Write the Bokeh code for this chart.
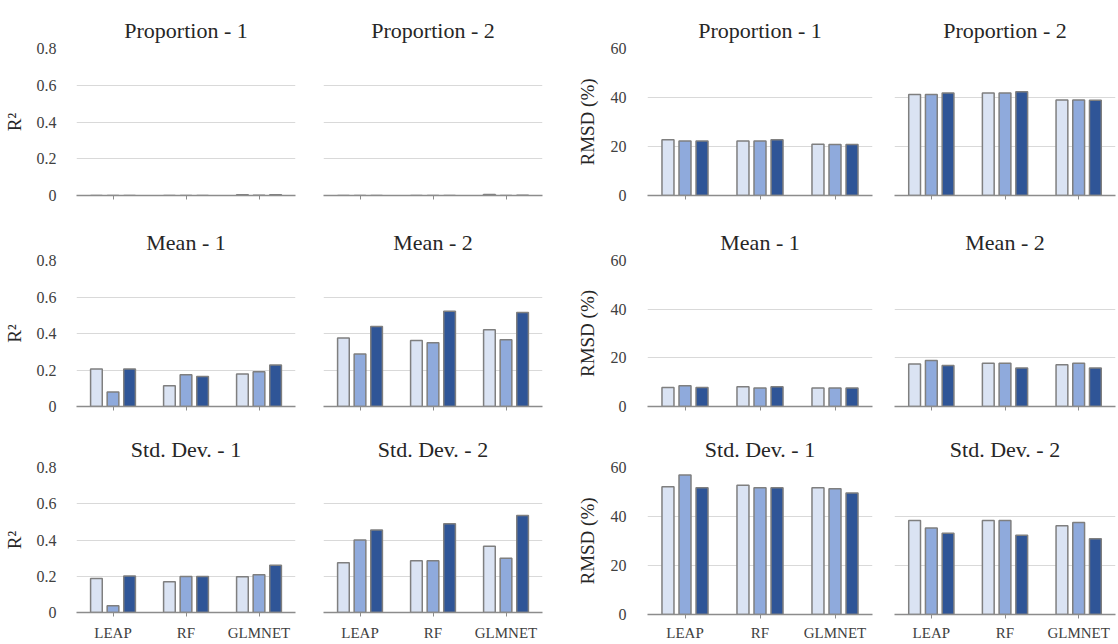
from bokeh.plotting import figure
from bokeh.layouts import column, row
from bokeh.models import Range1d, FactorRange, FixedTicker, ColumnDataSource
from bokeh.transform import dodge
from bokeh.embed import file_html
from bokeh.resources import INLINE

# ---------------- data ----------------
categories = ["LEAP", "RF", "GLMNET"]
series_names = ["Series 1", "Series 2", "Series 3"]
series_colors = ["#DAE3F3", "#8FAADC", "#2F5597"]

# each panel: one list per series, values for LEAP, RF, GLMNET
r2_proportion_1 = [[0.0, 0.0, 0.004], [0.0, 0.0, 0.001], [0.0, 0.0, 0.004]]
r2_proportion_2 = [[0.0, 0.0, 0.005], [0.0, 0.0, 0.0], [0.0, 0.0, 0.002]]
r2_mean_1 = [[0.205, 0.114, 0.178], [0.08, 0.174, 0.19], [0.205, 0.165, 0.227]]
r2_mean_2 = [[0.376, 0.361, 0.42], [0.288, 0.35, 0.366], [0.438, 0.522, 0.515]]
r2_sd_1 = [[0.188, 0.169, 0.197], [0.037, 0.199, 0.208], [0.202, 0.199, 0.261]]
r2_sd_2 = [[0.275, 0.285, 0.365], [0.40, 0.285, 0.30], [0.455, 0.49, 0.535]]

rmsd_proportion_1 = [[22.8, 22.2, 20.9], [22.2, 22.2, 20.8], [22.2, 22.8, 20.8]]
rmsd_proportion_2 = [[41.2, 41.8, 39.0], [41.2, 41.8, 39.0], [41.8, 42.3, 38.9]]
rmsd_mean_1 = [[7.8, 8.1, 7.6], [8.5, 7.6, 7.6], [7.8, 8.1, 7.6]]
rmsd_mean_2 = [[17.5, 17.8, 17.2], [18.9, 17.8, 17.8], [16.8, 15.8, 15.8]]
rmsd_sd_1 = [[52.1, 52.8, 51.7], [56.9, 51.7, 51.3], [51.7, 51.7, 49.6]]
rmsd_sd_2 = [[38.4, 38.4, 36.2], [35.3, 38.4, 37.6], [33.2, 32.3, 30.9]]

r2_ticks = [0, 0.2, 0.4, 0.6, 0.8]
r2_tick_labels = ["0", "0.2", "0.4", "0.6", "0.8"]
rmsd_ticks = [0, 20, 40, 60]
rmsd_tick_labels = ["0", "20", "40", "60"]

# ---------------- styling / layout ----------------
FONT = "Liberation Serif"
GRID = "#D9D9D9"
AXIS = "#8C8C8C"
OUTLINE = "#7F7F7F"

# (min_border_left, frame width, min_border_right, tick label standoff, axis label standoff)
col_geom = [(76, 219, 14, 14, 9), (14, 219, 10, 0, 0), (95, 225, 11, 15, 10), (11, 221, 2, 0, 0)]
# per group (left/right): rows of (min_border_top, frame height, min_border_bottom, x label standoff)
row_geom_left = [(48, 147, 25, 0), (40, 146, 14, 0), (45, 145, 30, 8)]
row_geom_right = [(48, 147, 25, 0), (40, 146, 14, 0), (47, 147, 27, 6)]

offsets = [-0.227, 0.0, 0.227]


def make_panel(title, values, ticks, tick_labels, ylabel, ci, ri):
    lb, fw, rb, ystand, ylstand = col_geom[ci]
    tb, fh, bb, xstand = (row_geom_left if ci < 2 else row_geom_right)[ri]
    top = ticks[-1]
    p = figure(
        x_range=FactorRange(*categories, range_padding=0),
        y_range=Range1d(0, top),
        frame_width=fw, frame_height=fh,
        min_border_left=lb, min_border_right=rb,
        min_border_top=tb, min_border_bottom=bb,
        output_backend="svg", toolbar_location=None,
        title=title,
    )
    p.title.align = "center"
    p.title.text_font = FONT
    p.title.text_font_style = "normal"
    p.title.text_font_size = "22px"
    p.title.text_color = "#262626"
    p.title.standoff = 12
    p.outline_line_color = None
    p.background_fill_color = "white"
    p.border_fill_color = "white"

    data = {"cat": categories}
    for i in range(3):
        data[f"s{i}"] = values[i]
    src = ColumnDataSource(data)
    for i in range(3):
        p.vbar(x=dodge("cat", offsets[i], range=p.x_range), top=f"s{i}",
               width=0.16, source=src, fill_color=series_colors[i],
               line_color=OUTLINE, line_width=1.5)

    p.xgrid.grid_line_color = None
    p.ygrid.ticker = FixedTicker(ticks=ticks)
    p.ygrid.grid_line_color = GRID
    p.ygrid.grid_line_width = 1

    # x axis
    xa = p.xaxis[0]
    xa.axis_line_color = AXIS
    xa.axis_line_width = 1.5
    xa.major_tick_line_color = AXIS
    xa.major_tick_in = 0
    xa.major_tick_out = 4
    xa.major_label_text_font = FONT
    xa.major_label_text_color = "#404040"
    xa.major_label_standoff = xstand
    if ri < 2:
        xa.major_label_text_font_size = "0px"
        xa.major_label_text_color = None
    else:
        xa.major_label_text_font_size = "15px"

    # y axis
    ya = p.yaxis[0]
    ya.ticker = FixedTicker(ticks=ticks)
    if ci in (0, 2):
        ya.major_label_overrides = {t: l for t, l in zip(ticks, tick_labels)}
        ya.axis_line_color = None
        ya.major_tick_line_color = None
        ya.minor_tick_line_color = None
        ya.major_label_text_font = FONT
        ya.major_label_text_font_size = "16px"
        ya.major_label_text_color = "#404040"
        ya.major_label_standoff = ystand
        ya.axis_label = ylabel
        ya.axis_label_text_font = FONT
        ya.axis_label_text_font_style = "normal"
        ya.axis_label_text_font_size = "19px"
        ya.axis_label_text_color = "#262626"
        ya.axis_label_standoff = ylstand
    else:
        ya.visible = False
    return p


panels = [
    [("Proportion - 1", r2_proportion_1, "r2"), ("Proportion - 2", r2_proportion_2, "r2"),
     ("Proportion - 1", rmsd_proportion_1, "rmsd"), ("Proportion - 2", rmsd_proportion_2, "rmsd")],
    [("Mean - 1", r2_mean_1, "r2"), ("Mean - 2", r2_mean_2, "r2"),
     ("Mean - 1", rmsd_mean_1, "rmsd"), ("Mean - 2", rmsd_mean_2, "rmsd")],
    [("Std. Dev. - 1", r2_sd_1, "r2"), ("Std. Dev. - 2", r2_sd_2, "r2"),
     ("Std. Dev. - 1", rmsd_sd_1, "rmsd"), ("Std. Dev. - 2", rmsd_sd_2, "rmsd")],
]

rows = []
for ri, prow in enumerate(panels):
    figs = []
    for ci, (title, vals, metric) in enumerate(prow):
        if metric == "r2":
            f = make_panel(title, vals, r2_ticks, r2_tick_labels, "R²", ci, ri)
        else:
            f = make_panel(title, vals, rmsd_ticks, rmsd_tick_labels, "RMSD (%)", ci, ri)
        figs.append(f)
    rows.append(row(*figs))

layout = column(*rows)

with open("out.html", "w") as fh:
    fh.write(file_html(layout, INLINE))
